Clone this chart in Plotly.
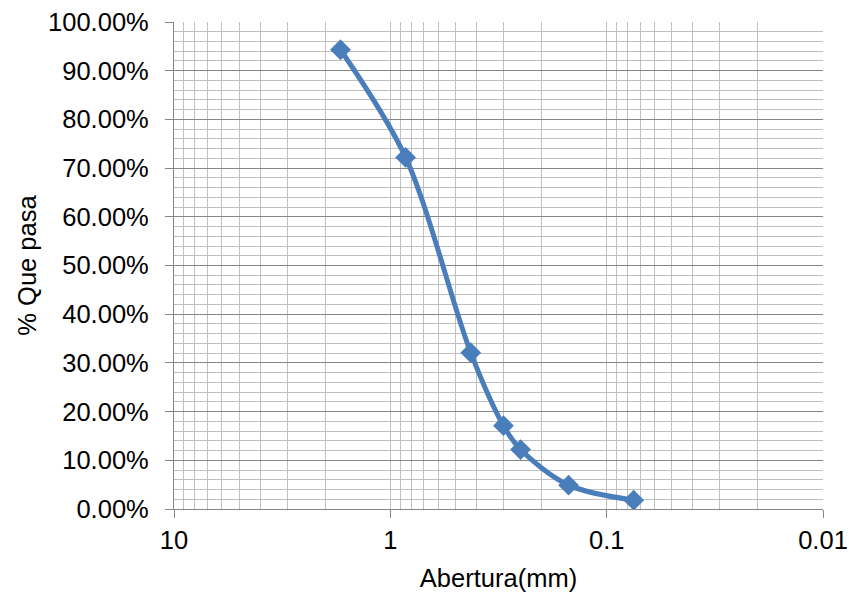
import plotly.graph_objects as go

# Data (sieve opening in mm, fraction passing)
abertura_mm = [1.70, 0.85, 0.425, 0.30, 0.25, 0.15, 0.075]
que_pasa = [0.943, 0.722, 0.321, 0.171, 0.122, 0.049, 0.018]

y_tick_vals = [i / 10 for i in range(11)]
x_tick_vals = [10, 1, 0.1, 0.01]
x_tick_text = ["10", "1", "0.1", "0.01"]
x_minor_vals = [m * 10 ** e for e in (0, -1, -2) for m in range(2, 10)]

FONT = "Liberation Sans, Arial, sans-serif"
BLUE = "#4A7EBB"
DARK = "#868686"
LIGHT = "#BFBFBF"
FS = 25.5

fig = go.Figure()
fig.add_trace(go.Scatter(
    x=abertura_mm, y=que_pasa,
    mode="lines+markers",
    line=dict(color=BLUE, width=5, shape="spline", smoothing=0.9),
    marker=dict(symbol="diamond", size=16, color=BLUE),
    showlegend=False,
))

fig.update_layout(
    width=849, height=592,
    margin=dict(l=174, r=26, t=22, b=83),
    paper_bgcolor="white", plot_bgcolor="white",
    font=dict(family=FONT, size=FS, color="#000000"),
)

fig.update_xaxes(
    type="log", range=[1, -2], automargin=False,
    tickmode="array", tickvals=x_tick_vals, ticktext=x_tick_text,
    ticks="outside", ticklen=8, tickcolor=DARK, tickwidth=1.3,
    showline=True, linecolor=DARK, linewidth=1.3,
    showgrid=True, gridcolor=LIGHT, gridwidth=1.3,
    minor=dict(tickmode="array", tickvals=x_minor_vals, showgrid=True,
               gridcolor=LIGHT, gridwidth=1.3, ticks=""),
    title=dict(text="Abertura(mm)", standoff=16, font=dict(size=FS)),
    tickfont=dict(size=FS),
    zeroline=False,
)

fig.update_yaxes(
    range=[0, 1], automargin=False,
    tickmode="array", tickvals=y_tick_vals, tickformat=".2%",
    ticks="outside", ticklen=8, tickcolor=DARK, tickwidth=1.3,
    ticklabelstandoff=11,
    showline=True, linecolor=DARK, linewidth=1.3,
    showgrid=True, gridcolor=DARK, gridwidth=1.3,
    minor=dict(dtick=0.02, showgrid=True, gridcolor=LIGHT, gridwidth=1.3, ticks=""),
    title=dict(text="% Que pasa", standoff=4, font=dict(size=FS)),
    tickfont=dict(size=FS),
    zeroline=False,
)

fig.write_html("out.html", config={"displayModeBar": False},
               post_script="document.body.style.margin='0';")
